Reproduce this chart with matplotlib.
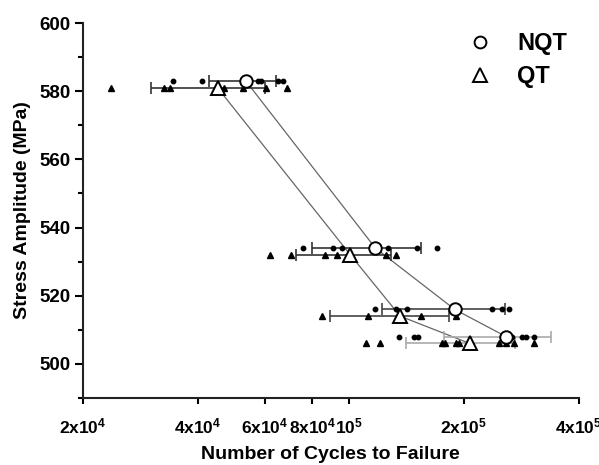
import matplotlib
matplotlib.use("Agg")
import matplotlib.pyplot as plt
from matplotlib.lines import Line2D
from matplotlib.ticker import FixedLocator, NullLocator, MultipleLocator

plt.rcParams['font.family'] = ['Liberation Sans', 'DejaVu Sans']
plt.rcParams['font.weight'] = 'bold'
plt.rcParams['mathtext.fontset'] = 'custom'
plt.rcParams['mathtext.default'] = 'bf'
plt.rcParams['mathtext.bf'] = 'Liberation Sans:bold'
plt.rcParams['mathtext.rm'] = 'Liberation Sans:bold'

# ---- data ----
stress_nqt = [583, 534, 516, 508]
mean_nqt = [53.5e3, 117e3, 189e3, 258e3]
err_nqt = [10.8e3, 37e3, 67e3, 81e3]

stress_qt = [581, 532, 514, 506]
mean_qt = [45.1e3, 100.6e3, 136e3, 207e3]
err_qt = [15e3, 28e3, 47e3, 66e3]

# individual specimens (cycles), NQT
nqt_583 = [34.4e3, 41.0e3, 57.5e3, 58.5e3, 65.0e3, 66.8e3]
nqt_534 = [75.8e3, 90.8e3, 95.9e3, 126.5e3, 150.7e3, 170e3]
nqt_516 = [117e3, 132.7e3, 142e3, 237e3, 252e3, 262e3]
nqt_508 = [135e3, 148e3, 151.7e3, 267e3, 284e3, 291e3, 305e3]

# individual specimens (cycles), QT
qt_581 = [23.7e3, 32.6e3, 33.8e3, 46.8e3, 52.5e3, 60.3e3, 68.8e3]
qt_532 = [62.1e3, 70.1e3, 86.5e3, 93.0e3, 125e3, 132.7e3]
qt_514 = [85e3, 112e3, 154e3, 191e3]
qt_506 = [110.8e3, 120.5e3, 175e3, 178e3, 190.6e3, 194e3, 247e3, 258e3, 270e3, 305e3]

err_colors = ['#333333', '#333333', '#444444', '#aaaaaa']

x_ticks = [2e4, 4e4, 6e4, 8e4, 1e5, 2e5, 4e5]
x_ticklabels = ['2x10$^4$', '4x10$^4$', '6x10$^4$', '8x10$^4$', '10$^5$', '2x10$^5$', '4x10$^5$']
y_ticks = [500, 520, 540, 560, 580, 600]

# ---- figure ----
fig = plt.figure(figsize=(5.99, 4.65), dpi=100)
ax = fig.add_axes([0.1386, 0.1441, 0.8275, 0.8064])

nqt_groups = [nqt_583, nqt_534, nqt_516, nqt_508]
qt_groups = [qt_581, qt_532, qt_514, qt_506]

for s, g in zip(stress_nqt, nqt_groups):
    ax.plot(g, [s] * len(g), linestyle='none', marker='o', ms=3.2,
            color='black', zorder=3)
for s, g in zip(stress_qt, qt_groups):
    ax.plot(g, [s] * len(g), linestyle='none', marker='^', ms=4.2,
            color='black', zorder=3)

for i in range(4):
    ax.errorbar(mean_nqt[i], stress_nqt[i], xerr=err_nqt[i], fmt='none',
                ecolor=err_colors[i], elinewidth=1.2, capsize=4.5, capthick=1.2, zorder=2)
    ax.errorbar(mean_qt[i], stress_qt[i], xerr=err_qt[i], fmt='none',
                ecolor=err_colors[i], elinewidth=1.2, capsize=4.5, capthick=1.2, zorder=2)

ax.plot(mean_nqt, stress_nqt, color='#666666', lw=0.9, zorder=1)
ax.plot(mean_qt, stress_qt, color='#666666', lw=0.9, zorder=1)

ax.plot(mean_nqt, stress_nqt, linestyle='none', marker='o', ms=9,
        mfc='white', mec='black', mew=1.4, zorder=4)
ax.plot(mean_qt, stress_qt, linestyle='none', marker='^', ms=10.5,
        mfc='white', mec='black', mew=1.4, zorder=4)

ax.set_xscale('log')
ax.set_xlim(2e4, 4e5)
ax.set_ylim(490, 600)
ax.xaxis.set_major_locator(FixedLocator(x_ticks))
ax.xaxis.set_minor_locator(NullLocator())
ax.set_xticklabels(x_ticklabels)
ax.yaxis.set_major_locator(FixedLocator(y_ticks))
ax.yaxis.set_minor_locator(MultipleLocator(10))

for side in ['top', 'right']:
    ax.spines[side].set_visible(False)
for side in ['left', 'bottom']:
    ax.spines[side].set_linewidth(1.5)
    ax.spines[side].set_color('#222222')

ax.tick_params(axis='y', which='major', direction='out', length=6, width=1.5,
               labelsize=13.5, pad=3)
ax.tick_params(axis='y', which='minor', direction='out', length=3.5, width=1.5)
ax.tick_params(axis='x', which='major', direction='out', length=4.5, width=1.5,
               labelsize=12.5, pad=9)

ax.set_xlabel('Number of Cycles to Failure', fontsize=14, fontweight='bold', labelpad=7)
ax.set_ylabel('Stress Amplitude (MPa)', fontsize=14, fontweight='bold', labelpad=6)

handles = [
    Line2D([], [], linestyle='none', marker='o', ms=8.5, mfc='white', mec='black', mew=1.4),
    Line2D([], [], linestyle='none', marker='^', ms=10.5, mfc='white', mec='black', mew=1.4),
]
leg = ax.legend(handles, ['NQT', 'QT'], loc='upper left', bbox_to_anchor=(0.778, 0.975),
                frameon=False, handlelength=1.0, handletextpad=1.05, labelspacing=0.4,
                borderpad=0, borderaxespad=0, prop={'weight': 'bold', 'size': 17})

fig.savefig('out.png', dpi=100)
